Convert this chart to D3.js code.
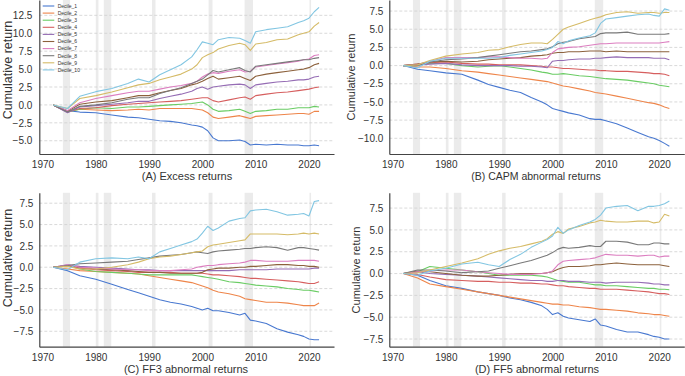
<!DOCTYPE html>
<html>
<head>
<meta charset="utf-8">
<script src="https://cdn.jsdelivr.net/npm/d3@7"></script>
<style>
  html, body { margin: 0; padding: 0; background: #fff; }
  svg { display: block; font-family: "Liberation Sans", Arial, sans-serif; }
</style>
</head>
<body>
<svg id="chart" width="685" height="376"></svg>
<script>
// ---------------- DATA ----------------
const deciles = ["Decile_1","Decile_2","Decile_3","Decile_4","Decile_5","Decile_6","Decile_7","Decile_8","Decile_9","Decile_10"];
const years = [1972, 1974.7, 1977, 1980, 1983, 1986, 1988, 1990, 1992, 1994, 1996, 1998, 1999, 2000, 2001, 2002, 2003, 2005, 2007, 2008, 2009, 2010, 2012, 2014, 2016, 2018, 2019, 2020, 2021, 2021.9];
const xTickLabels = [1970, 1980, 1990, 2000, 2010, 2020];
const recessions = [[1973.83, 1975.17], [1980.0, 1980.5], [1981.5, 1982.9], [1990.55, 1991.2], [2001.17, 2001.9], [2007.92, 2009.5], [2020.1, 2020.4]];

const excessReturns = [
  [0, -0.8, -1.0, -1.1, -1.4, -1.7, -1.8, -2.0, -2.2, -2.3, -2.5, -2.8, -2.9, -3.1, -3.6, -4.6, -5.0, -5.0, -4.9, -5.1, -5.6, -5.5, -5.6, -5.5, -5.6, -5.6, -5.7, -5.7, -5.6, -5.7],
  [0, -0.9, -0.6, -0.7, -0.8, -0.7, -0.6, -0.7, -0.5, -0.5, -0.5, -0.5, -0.6, -0.7, -1.1, -1.7, -1.9, -1.7, -1.5, -1.7, -1.9, -1.6, -1.5, -1.4, -1.3, -1.2, -1.2, -1.3, -0.9, -0.9],
  [0, -1.0, -0.6, -0.4, -0.5, -0.3, -0.3, -0.2, -0.1, 0.0, 0.1, 0.2, 0.3, 0.4, 0.0, -0.6, -0.9, -0.8, -0.6, -0.9, -1.2, -0.9, -0.8, -0.6, -0.6, -0.4, -0.4, -0.4, -0.2, -0.3],
  [0, -1.0, -0.5, -0.4, -0.1, 0.1, 0.2, 0.3, 0.4, 0.5, 0.6, 0.8, 0.9, 1.0, 1.0, 0.6, 0.4, 0.7, 1.0, 1.1, 0.8, 1.3, 1.5, 1.7, 1.8, 2.0, 2.1, 2.2, 2.4, 2.5],
  [0, -1.1, -0.3, -0.1, 0.1, 0.3, 0.5, 0.5, 0.9, 1.2, 1.5, 1.9, 2.3, 2.5, 2.2, 2.5, 2.6, 2.8, 2.9, 2.8, 2.3, 2.8, 3.0, 3.2, 3.3, 3.5, 3.5, 3.6, 3.9, 4.0],
  [0, -0.9, 0.1, 0.4, 0.6, 1.0, 1.3, 1.3, 1.7, 2.0, 2.3, 2.8, 3.0, 3.3, 3.7, 4.0, 3.6, 3.8, 4.0, 3.7, 3.4, 4.0, 4.3, 4.5, 4.7, 4.9, 5.0, 5.2, 5.6, 5.8],
  [0, -0.8, 0.3, 0.9, 1.3, 1.7, 1.9, 1.9, 2.2, 2.5, 2.7, 3.0, 3.3, 3.9, 4.3, 4.5, 4.4, 4.7, 4.9, 4.6, 4.7, 5.3, 5.5, 5.7, 5.9, 6.1, 6.3, 6.4, 6.9, 7.0],
  [0, -1.0, -0.2, 0.0, 0.3, 0.8, 1.0, 1.0, 1.6, 2.0, 2.4, 3.0, 3.3, 3.6, 4.2, 4.8, 4.6, 4.9, 5.2, 4.8, 4.6, 5.4, 5.6, 5.8, 6.0, 6.2, 6.3, 6.3, 6.5, 6.6],
  [0, -0.5, 0.9, 1.3, 1.8, 2.4, 2.8, 3.0, 3.5, 3.9, 4.3, 5.0, 5.6, 6.6, 7.0, 7.3, 7.8, 8.3, 8.6, 8.4, 7.6, 8.5, 8.7, 9.1, 9.2, 9.8, 10.0, 10.2, 11.0, 11.5],
  [0, -0.5, 1.2, 1.85, 2.3, 3.0, 3.6, 3.2, 4.2, 4.9, 5.6, 6.7, 7.7, 8.8, 8.6, 8.4, 9.1, 9.4, 9.3, 9.0, 8.6, 10.2, 10.5, 10.7, 10.9, 11.5, 11.75, 12.1, 13.0, 13.6]
];

const capmReturns = [
  [0, -0.5, -0.7, -1.0, -1.2, -2.0, -2.6, -3.0, -3.4, -3.7, -4.4, -5.0, -5.4, -5.9, -6.1, -6.3, -6.5, -6.8, -7.3, -7.4, -7.4, -7.6, -8.0, -8.6, -9.2, -9.8, -10.0, -10.3, -10.7, -11.1],
  [0, -0.2, -0.2, -0.4, -0.7, -0.9, -1.1, -1.3, -1.5, -1.7, -1.9, -2.1, -2.2, -2.4, -2.6, -2.8, -2.9, -3.2, -3.5, -3.7, -3.8, -3.9, -4.2, -4.5, -4.8, -5.1, -5.2, -5.4, -5.7, -5.9],
  [0, 0.1, 0.3, 0.3, 0.0, -0.2, -0.1, 0.0, -0.2, -0.4, -0.6, -0.9, -1.0, -1.2, -1.2, -1.1, -1.2, -1.4, -1.5, -1.6, -1.7, -1.8, -1.9, -2.0, -2.2, -2.4, -2.5, -2.7, -2.8, -2.9],
  [0, 0.2, 0.4, 0.5, 0.3, 0.2, 0.2, 0.1, 0.1, 0.1, 0.0, -0.1, -0.2, -0.2, -0.3, -0.4, -0.4, -0.5, -0.6, -0.6, -0.7, -0.7, -0.8, -0.8, -0.9, -1.0, -1.1, -1.1, -1.2, -1.4],
  [0, 0.1, 0.2, 0.3, 0.1, 0.0, 0.0, 0.0, 0.0, -0.1, -0.1, -0.2, -0.3, 0.6, 0.7, 0.7, 0.8, 0.9, 0.9, 1.0, 1.0, 1.1, 1.2, 1.1, 1.1, 1.1, 1.0, 1.0, 1.0, 0.8],
  [0, 0.2, 0.5, 0.6, 0.5, 0.6, 0.8, 0.9, 1.0, 1.1, 1.3, 1.4, 1.5, 1.7, 1.8, 1.8, 1.9, 1.9, 2.0, 2.0, 2.0, 1.9, 2.0, 1.9, 1.9, 1.9, 1.9, 1.9, 1.9, 1.9],
  [0, 0.1, 0.6, 1.1, 1.1, 1.1, 1.2, 1.2, 1.1, 1.0, 1.0, 0.9, 1.0, 1.8, 2.3, 2.4, 2.5, 2.6, 2.8, 2.9, 3.0, 3.0, 3.1, 3.1, 3.1, 3.1, 3.1, 3.1, 3.2, 3.3],
  [0, 0.0, 0.5, 0.8, 0.9, 1.1, 1.3, 1.5, 1.7, 1.9, 2.0, 2.2, 2.3, 2.6, 3.0, 3.2, 3.3, 3.7, 3.9, 4.0, 4.4, 4.5, 4.5, 4.6, 4.3, 4.3, 4.3, 4.3, 4.3, 4.4],
  [0, 0.1, 0.7, 1.3, 1.6, 1.8, 2.1, 2.2, 2.6, 2.9, 3.1, 3.1, 3.0, 3.6, 4.3, 5.0, 5.3, 5.8, 6.3, 6.5, 6.7, 7.0, 7.3, 7.4, 7.2, 7.3, 7.3, 7.2, 7.3, 7.3],
  [0, -0.3, 0.6, 1.0, 1.0, 1.0, 1.0, 1.1, 1.4, 1.6, 1.8, 2.0, 2.2, 2.5, 3.3, 3.0, 3.4, 3.8, 4.1, 4.5, 5.8, 6.4, 6.6, 6.8, 7.0, 7.1, 6.9, 6.8, 7.8, 7.6]
];

const ff3Returns = [
  [0, -0.4, -1.0, -1.4, -2.0, -2.6, -3.0, -3.4, -3.8, -4.1, -4.3, -4.6, -4.8, -5.0, -4.8, -5.1, -5.1, -5.3, -5.6, -5.4, -6.2, -6.3, -6.6, -7.2, -7.6, -7.9, -8.1, -8.4, -8.5, -8.5],
  [0, -0.2, -0.4, -0.5, -0.6, -0.7, -0.8, -1.0, -1.2, -1.4, -1.6, -1.8, -2.0, -2.2, -2.4, -2.7, -2.9, -3.1, -3.4, -3.7, -3.8, -3.9, -4.1, -4.1, -4.2, -4.4, -4.5, -4.5, -4.5, -4.2],
  [0, 0.2, -0.2, -0.5, -0.6, -0.7, -0.8, -0.9, -0.9, -0.9, -0.9, -0.9, -1.0, -1.1, -1.2, -1.3, -1.4, -1.7, -1.8, -1.9, -2.0, -2.1, -2.2, -2.3, -2.5, -2.6, -2.7, -2.7, -2.8, -2.9],
  [0, 0.2, -0.1, -0.3, -0.4, -0.5, -0.6, -0.6, -0.6, -0.6, -0.7, -0.7, -0.7, -0.7, -0.8, -0.9, -0.9, -1.0, -1.1, -1.2, -1.3, -1.3, -1.4, -1.5, -1.6, -1.7, -1.8, -1.9, -1.9, -1.7],
  [0, 0.3, 0.1, 0.0, -0.1, -0.2, -0.3, -0.3, -0.4, -0.4, -0.4, -0.4, -0.4, -0.4, -0.4, -0.4, -0.4, -0.4, -0.3, -0.3, -0.3, -0.3, -0.3, -0.2, -0.2, -0.2, -0.2, -0.2, -0.1, -0.1],
  [0, 0.2, 0.0, -0.2, -0.3, -0.4, -0.5, -0.6, -0.6, -0.7, -0.7, -0.7, -0.7, -0.6, -0.3, -0.2, -0.1, -0.1, 0.0, 0.0, 0.1, 0.1, 0.2, 0.3, 0.3, 0.2, 0.2, 0.1, 0.1, 0.0],
  [0, 0.3, 0.0, -0.1, -0.2, -0.3, -0.3, -0.4, -0.4, -0.4, -0.3, -0.2, 0.0, 0.1, 0.2, 0.2, 0.3, 0.4, 0.5, 0.6, 0.8, 0.8, 0.7, 0.7, 0.7, 0.8, 0.8, 0.8, 0.8, 0.7],
  [0, 0.2, 0.4, 0.5, 0.6, 0.7, 0.9, 1.1, 1.3, 1.4, 1.5, 1.7, 1.8, 1.7, 1.6, 1.8, 1.9, 2.0, 2.1, 2.2, 2.2, 2.3, 2.4, 2.3, 2.0, 2.3, 2.3, 2.2, 2.1, 2.0],
  [0, 0.1, -0.2, -0.2, 0.0, 0.3, 0.6, 1.0, 1.2, 1.3, 1.5, 1.7, 1.8, 1.9, 2.4, 2.6, 2.7, 2.9, 3.1, 3.2, 3.9, 3.9, 3.9, 3.9, 3.8, 3.9, 4.0, 3.9, 4.0, 3.9],
  [0, -0.3, 0.6, 1.0, 1.1, 1.0, 1.2, 1.0, 1.8, 2.2, 2.6, 3.0, 3.3, 4.0, 4.8, 4.3, 4.6, 5.4, 5.7, 5.8, 6.6, 6.7, 6.8, 6.5, 6.1, 6.2, 6.3, 6.0, 7.7, 7.8]
];

const ff5Returns = [
  [0, -0.2, -0.8, -1.4, -1.7, -2.1, -2.3, -2.5, -2.8, -3.0, -3.3, -3.7, -4.1, -4.7, -4.5, -4.9, -5.1, -5.3, -5.5, -5.2, -5.9, -6.0, -6.4, -6.7, -6.7, -7.0, -7.2, -7.3, -7.5, -7.5],
  [0, -0.5, -1.2, -1.5, -1.8, -2.1, -2.3, -2.5, -2.7, -2.9, -3.1, -3.3, -3.4, -3.5, -3.5, -3.6, -3.6, -3.8, -3.9, -4.0, -4.1, -4.1, -4.2, -4.3, -4.5, -4.6, -4.7, -4.7, -4.8, -4.9],
  [0, 0.2, 0.8, 0.6, 0.4, 0.2, 0.0, -0.2, -0.2, -0.2, -0.2, -0.3, -0.4, -0.6, -0.8, -0.9, -1.0, -1.0, -1.2, -1.3, -1.3, -1.4, -1.4, -1.5, -1.6, -1.7, -1.7, -1.8, -1.8, -1.85],
  [0, -0.1, -0.4, -0.7, -0.8, -0.9, -0.9, -1.0, -1.0, -1.1, -1.1, -1.2, -1.2, -1.3, -1.4, -1.4, -1.5, -1.6, -1.7, -1.7, -1.8, -1.8, -1.8, -1.9, -2.0, -2.1, -2.2, -2.3, -2.3, -2.4],
  [0, 0.2, 0.0, -0.1, -0.2, -0.3, -0.4, -0.5, -0.6, -0.7, -0.8, -0.8, -0.9, -0.9, -0.8, -0.8, -0.9, -0.9, -1.0, -1.0, -1.0, -1.1, -1.0, -1.0, -1.0, -1.1, -1.2, -1.2, -1.3, -1.3],
  [0, 0.3, 0.2, 0.0, -0.2, -0.3, -0.3, -0.2, -0.1, 0.0, 0.0, 0.0, 0.1, 0.2, 0.5, 0.7, 0.8, 0.8, 0.9, 1.0, 1.0, 1.1, 1.2, 1.1, 1.0, 1.0, 1.0, 1.0, 0.9, 0.8],
  [0, 0.2, 0.3, 0.4, 0.4, 0.2, 0.1, 0.0, -0.1, -0.1, -0.1, 0.0, 0.1, 0.3, 1.0, 1.4, 1.5, 1.6, 1.7, 1.8, 2.0, 2.2, 2.1, 2.1, 2.0, 2.1, 2.1, 1.9, 2.0, 2.0],
  [0, 0.4, 0.4, 0.3, 0.1, 0.2, 0.3, 0.6, 0.9, 1.2, 1.5, 1.9, 2.1, 2.4, 2.8, 3.0, 2.9, 3.0, 3.2, 3.1, 3.1, 3.7, 3.7, 3.6, 3.3, 3.3, 3.5, 3.5, 3.4, 3.4],
  [0, 0.1, 0.4, 0.8, 1.2, 1.7, 2.2, 2.6, 2.9, 3.1, 3.4, 3.7, 4.0, 4.5, 4.8, 4.6, 5.1, 5.4, 5.8, 5.9, 6.1, 6.0, 5.9, 5.9, 6.0, 6.0, 5.8, 5.9, 6.8, 6.6],
  [0, -0.2, 0.3, 0.6, 1.1, 1.3, 1.0, 0.8, 1.6, 2.2, 3.0, 3.6, 3.9, 4.3, 5.3, 4.6, 5.0, 5.5, 5.9, 6.2, 6.7, 7.5, 7.7, 7.8, 7.2, 7.7, 7.7, 7.8, 8.0, 8.3]
];

const yTicksA = [-5, -2.5, 0, 2.5, 5, 7.5, 10, 12.5];
const yTicksB = [-10, -7.5, -5, -2.5, 0, 2.5, 5, 7.5];
const yTicksC = [-7.5, -5, -2.5, 0, 2.5, 5, 7.5];
const yTicksD = [-7.5, -5, -2.5, 0, 2.5, 5, 7.5];
const titles = ["(A) Excess returns", "(B) CAPM abnormal returns", "(C) FF3 abnormal returns", "(D) FF5 abnormal returns"];

// ---------------- STYLE / LAYOUT ----------------
const colors = ["#4878d0","#ee854a","#6acc64","#d65f5f","#956cb4","#8c613c","#dc7ec0","#797979","#d5bb67","#82c6e2"];
const layout = [
  {data: excessReturns, ticks: yTicksA, x0: 39.3, x1: 334, y0: 0, y1: 154, ydom: [-6.85, 14.64], tx: 187, ty: 180, tsize: 11, lx: 11.8, ly: 70, lsize: 12.5, pad: 7, legend: true},
  {data: capmReturns, ticks: yTicksB, x0: 389.3, x1: 684.3, y0: 0, y1: 154, ydom: [-12.16, 9.02], tx: 536, ty: 180, tsize: 10.5, lx: 355, ly: 77, lsize: 11, pad: 6},
  {data: ff3Returns, ticks: yTicksC, x0: 39.3, x1: 334, y0: 192.8, y1: 346.7, ydom: [-9.31, 8.72], tx: 186, ty: 372.5, tsize: 11, lx: 11.8, ly: 258, lsize: 12.5, pad: 6},
  {data: ff5Returns, ticks: yTicksD, x0: 389.3, x1: 684.3, y0: 192.8, y1: 346.7, ydom: [-8.38, 9.25], tx: 537, ty: 372.5, tsize: 11, lx: 360, ly: 270, lsize: 11, pad: 6}
];
const textColor = "#333";
const xDomain = [1969.4, 2024.7];

const svg = d3.select("#chart");

layout.forEach((p, pi) => {
  const x = d3.scaleLinear().domain(xDomain).range([p.x0, p.x1]);
  const y = d3.scaleLinear().domain(p.ydom).range([p.y1, p.y0]);
  const g = svg.append("g");

  // recession bands
  g.selectAll("rect.band").data(recessions).join("rect")
    .attr("class", "band")
    .attr("x", d => x(d[0])).attr("width", d => x(d[1]) - x(d[0]))
    .attr("y", p.y0).attr("height", p.y1 - p.y0)
    .attr("fill", "#ebebeb");

  // grid
  g.selectAll("line.grid").data(p.ticks).join("line")
    .attr("class", "grid")
    .attr("x1", p.x0).attr("x2", p.x1)
    .attr("y1", d => y(d)).attr("y2", d => y(d))
    .attr("stroke", "#cfcfcf").attr("stroke-width", 0.8)
    .attr("stroke-dasharray", "3,2");

  // lines
  const line = d3.line().x((d, i) => x(years[i])).y(d => y(d));
  g.selectAll("path.series").data(p.data).join("path")
    .attr("class", "series")
    .attr("d", d => line(d))
    .attr("fill", "none")
    .attr("stroke", (d, i) => colors[i])
    .attr("stroke-width", 1.1)
    .attr("stroke-linejoin", "round");

  // axes
  const yAxis = d3.axisLeft(y).tickValues(p.ticks).tickFormat(d3.format(".1f")).tickSize(0).tickPadding(p.pad);
  const ya = g.append("g").attr("transform", `translate(${p.x0},0)`).call(yAxis);
  const xAxis = d3.axisBottom(x).tickValues(xTickLabels).tickFormat(d3.format("d")).tickSize(0).tickPadding(7);
  const xa = g.append("g").attr("transform", `translate(0,${p.y1})`).call(xAxis);
  [ya, xa].forEach(a => {
    a.select(".domain").attr("stroke", "#444").attr("stroke-width", 1.2);
    a.selectAll("text").attr("fill", textColor).style("font-size", "10px").style("font-family", '"Liberation Sans", Arial, sans-serif');
  });

  // title
  g.append("text").attr("x", p.tx).attr("y", p.ty).attr("text-anchor", "middle")
    .attr("fill", textColor).style("font-size", p.tsize + "px").text(titles[pi]);

  // y label
  g.append("text").attr("transform", `translate(${p.lx},${p.ly}) rotate(-90)`)
    .attr("text-anchor", "middle").attr("fill", textColor)
    .style("font-size", p.lsize + "px").text("Cumulative return");

  // legend
  if (p.legend) {
    const lg = g.append("g");
    deciles.forEach((name, i) => {
      const yy = 6 + i * 7.1;
      lg.append("line").attr("x1", 42.7).attr("x2", 54.3).attr("y1", yy).attr("y2", yy)
        .attr("stroke", colors[i]).attr("stroke-width", 1.1);
      lg.append("text").attr("x", 57.7).attr("y", yy + 1.8).attr("fill", textColor)
        .style("font-size", "5px").text(name);
    });
  }
});
</script>
</body>
</html>
